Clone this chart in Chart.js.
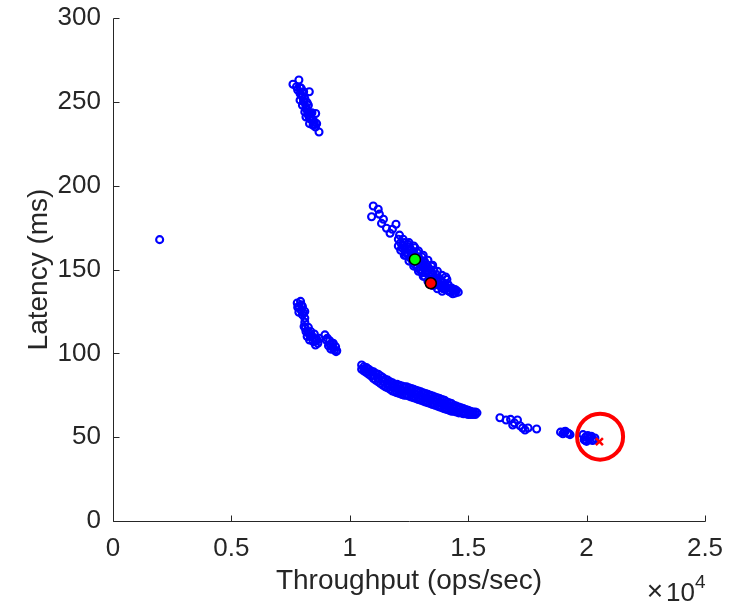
<!DOCTYPE html>
<html>
<head>
<meta charset="utf-8">
<title>Throughput vs latency</title>
<script src="https://cdn.jsdelivr.net/npm/chart.js@4/dist/chart.umd.min.js"></script>
<style>
  html, body { margin: 0; padding: 0; background: #fff; }
  #chart { display: block; }
</style>
</head>
<body>
<canvas id="chart" width="745" height="605"></canvas>
<script>
// Configuration sweep: each point is [throughput ops/sec, latency ms]
const isolatedRun = [[1970, 167.8]];

const slowCluster = [
  [7600, 260.5], [7850, 263], [7800, 257], [7900, 255], [7950, 258], [8000, 253],
  [7900, 251], [8050, 250], [8100, 252], [8000, 248], [8150, 247], [8100, 244],
  [8200, 245], [8250, 242], [8150, 241], [8300, 240], [8350, 243], [8400, 239],
  [8300, 237], [8450, 236], [8500, 238], [8550, 235], [8700, 232], [8050, 256],
  [8250, 248], [8290, 256], [8560, 243],
  [7750, 259], [7950, 254], [8050, 250.5], [8150, 246], [8200, 249.5], [8250, 243.5],
  [8350, 241], [8400, 243.5], [8450, 239], [8500, 236.5], [8600, 237], [7900, 258.5]
];

const midCluster = [
  [10990, 187.9], [11200, 185.9], [10920, 181.5], [11250, 183], [11340, 177.5],
  [11550, 174.6], [11950, 177], [11700, 171.6], [11800, 174], [11420, 180],
  [12050, 168], [12050, 164], [12150, 166], [12150, 161.5], [12250, 164.5], [12250, 168],
  [12350, 162], [12350, 158.5], [12450, 165], [12450, 160], [12550, 157], [12550, 162.5],
  [12650, 160.5], [12650, 155], [12750, 163], [12750, 158], [12750, 153],
  [12850, 156.5], [12850, 151.5], [12850, 160], [12950, 154.5], [12950, 150],
  [13050, 157.5], [13050, 148], [13050, 152.5], [13150, 150.5], [13150, 146], [13150, 155],
  [13250, 148.5], [13250, 153], [13350, 144.5], [13350, 150.5],
  [13450, 147], [13450, 142.5], [13450, 152], [13550, 145], [13550, 140.5], [13550, 149.5],
  [13650, 143], [13650, 147], [13750, 141], [13750, 145], [13850, 139.5], [13850, 143.5],
  [13950, 138.5], [13950, 142], [14050, 145.5], [14050, 140], [14150, 137.5], [14150, 141],
  [14250, 139], [14250, 136.5], [14350, 137.5], [14350, 135.5], [14450, 138], [14450, 136],
  [14580, 136.5],
  [12100, 170.5], [12300, 166], [12500, 163.5], [12700, 160.5], [12900, 157.5], [13100, 155],
  [13300, 151.5], [13500, 147], [13700, 143], [13900, 140.5], [14100, 139], [14300, 139],
  [14500, 137.5], [12200, 163], [12400, 159.5], [12600, 158], [12800, 154.5], [13000, 150],
  [13200, 148], [13400, 145.5], [13600, 142], [13800, 141], [14000, 138.5], [14200, 137],
  [12300, 158.5], [12500, 155], [12700, 152], [12900, 149], [13100, 146], [13300, 143],
  [13500, 140.5], [13700, 138.5], [13900, 137],
  [12500, 166], [12700, 164], [12900, 161], [13100, 158.5], [13300, 155.5], [13500, 152.5],
  [13700, 149], [13900, 146.5], [14100, 144]
];

const lowerLeftCluster = [
  [7780, 130], [7850, 128], [7920, 131], [7950, 125.5], [8050, 124], [7850, 124.5],
  [8000, 128], [8100, 125], [7800, 127.5], [7950, 129], [8000, 123],
  [8070, 116], [8150, 113], [8250, 115.5], [8350, 113], [8200, 110], [8400, 110.5],
  [8300, 108], [8500, 111.5], [8450, 107], [8600, 108.5], [8550, 105], [8650, 106],
  [8100, 118.5], [8700, 109], [8100, 121], [8120, 115], [8250, 112], [8350, 110],
  [8480, 109], [8580, 107.5],
  [8950, 111], [9050, 109], [9150, 107.5], [9100, 104.5], [9250, 106], [9300, 103],
  [9400, 104], [9450, 101.5], [9200, 102.5], [9000, 108], [9180, 105], [9350, 102],
  [9300, 106], [9420, 101]
];

// long lower band: upper and lower edge of the band at each step, then its middle
const lowerBand = [
  [10500, 93], [10500, 90.5], [10600, 92], [10600, 89.5], [10700, 91.5], [10700, 88.5],
  [10800, 90.5], [10800, 87.5], [10900, 89.5], [10900, 86.5], [11000, 89], [11000, 85],
  [11100, 88], [11100, 84], [11200, 87.5], [11200, 83], [11300, 86.5], [11300, 82],
  [11400, 85.5], [11400, 81], [11500, 84.5], [11500, 80], [11600, 84], [11600, 79.5],
  [11700, 83], [11700, 78.5], [11800, 82.5], [11800, 77.5], [11900, 81.5], [11900, 77],
  [12000, 81.5], [12000, 76.5], [12100, 81], [12100, 76], [12200, 80.5], [12200, 75.5],
  [12300, 80], [12300, 75], [12400, 80], [12400, 75], [12500, 79.5], [12500, 74.5],
  [12600, 79], [12600, 74], [12700, 78.5], [12700, 73.5], [12800, 78], [12800, 73],
  [12900, 77.5], [12900, 72.5], [13000, 77], [13000, 72], [13100, 76.5], [13100, 71.5],
  [13200, 76], [13200, 71], [13300, 75.5], [13300, 70.5], [13400, 75], [13400, 70],
  [13500, 74.5], [13500, 69.5], [13600, 74], [13600, 69], [13700, 73.5], [13700, 68.5],
  [13800, 73], [13800, 68], [13900, 72.5], [13900, 67.5], [14000, 72], [14000, 67],
  [14100, 71], [14100, 66.5], [14200, 70.5], [14200, 66], [14300, 70], [14300, 65.5],
  [14400, 69], [14400, 65.5], [14500, 68.5], [14500, 65], [14600, 68], [14600, 64.5],
  [14700, 67.5], [14700, 64.5], [14800, 67], [14800, 64], [14900, 66.5], [14900, 64],
  [15000, 66], [15000, 63.5], [15100, 65.5], [15100, 63.5], [15200, 65], [15200, 63.5],
  [15300, 65], [15300, 63.5], [15370, 64.5],
  [10600, 90.7], [10800, 89], [11000, 87], [11200, 85.2], [11400, 83.5], [11600, 81.5],
  [11800, 80], [12000, 79], [12200, 78], [12400, 77.5], [12600, 76.5], [12800, 75.5],
  [13000, 74.5], [13200, 73.5], [13400, 72.5], [13600, 71.5], [13800, 70.5], [14000, 69.5],
  [14200, 68.2], [14400, 67.2], [14600, 66.3], [14800, 65.5], [15000, 64.8], [15200, 64.2]
];

const fastCluster = [
  [16340, 61.6], [16600, 60.2], [16790, 60.6], [16880, 57.3], [17080, 60.2], [17190, 56.8],
  [17400, 54.3], [17530, 55.5], [17890, 54.9], [16950, 58.5], [17300, 55.5]
];

const fastestCluster = [
  [18900, 53], [19000, 52], [19100, 53.5], [19200, 52.5], [19300, 51.5],
  [19850, 51.5], [19950, 50], [20050, 51], [20100, 49], [20200, 50.5], [20250, 48],
  [20350, 49.5], [19900, 48.5], [20000, 47.5], [19050, 53], [19250, 52], [20150, 50],
  [20300, 48.5], [19950, 48]
];

const bestRun = [[20540, 47.3]];
const ringCentre = [[20570, 50.3]];
const defaultRun = [[12750, 156]];
const tunedRun = [[13420, 141.8]];

const xTicks = [0, 5000, 10000, 15000, 20000, 25000];
const yTicks = [0, 50, 100, 150, 200, 250, 300];

const axisColor = '#262626';
const fontFamily = '"Liberation Sans", Arial, Helvetica, sans-serif';

const toPoints = arr => arr.map(([x, y]) => ({ x, y }));

const sweep = [
  ...isolatedRun, ...slowCluster, ...midCluster, ...lowerLeftCluster,
  ...lowerBand, ...fastCluster, ...fastestCluster
];

// box-off axes with inward ticks, plus the x10^4 multiplier
const matlabAxes = {
  id: 'matlabAxes',
  afterDraw(chart) {
    const { ctx, scales: { x, y } } = chart;
    const x0 = Math.round(x.getPixelForValue(xTicks[0])) + 0.5;
    const x1 = Math.round(x.getPixelForValue(xTicks[xTicks.length - 1])) + 0.5;
    const y0 = Math.round(y.getPixelForValue(yTicks[0])) + 0.5;
    const y1 = Math.round(y.getPixelForValue(yTicks[yTicks.length - 1])) + 0.5;
    ctx.save();
    ctx.strokeStyle = axisColor;
    ctx.lineWidth = 1;
    ctx.beginPath();
    ctx.moveTo(x0, y1); ctx.lineTo(x0, y0); ctx.lineTo(x1, y0);
    xTicks.forEach(v => {
      const px = Math.round(x.getPixelForValue(v)) + 0.5;
      ctx.moveTo(px, y0); ctx.lineTo(px, y0 - 6);
    });
    yTicks.forEach(v => {
      const py = Math.round(y.getPixelForValue(v)) + 0.5;
      ctx.moveTo(x0, py); ctx.lineTo(x0 + 6, py);
    });
    ctx.stroke();

    ctx.fillStyle = axisColor;
    ctx.textBaseline = 'alphabetic';
    ctx.textAlign = 'right';
    ctx.font = '19px ' + fontFamily;
    const supW = ctx.measureText('4').width;
    ctx.fillText('4', x1, y0 + 66);
    ctx.font = '26px ' + fontFamily;
    const baseW = ctx.measureText('10').width;
    ctx.fillText('10', x1 - supW, y0 + 79);
    ctx.font = '28px ' + fontFamily;
    ctx.fillText('\u00d7', x1 - supW - baseW - 3, y0 + 78);
    ctx.restore();
  }
};

new Chart(document.getElementById('chart'), {
  type: 'scatter',
  data: {
    datasets: [
      { data: toPoints(ringCentre), pointRadius: 23, pointHoverRadius: 23, borderWidth: 4,
        borderColor: '#ff0000', backgroundColor: 'rgba(0,0,0,0)', order: 0 },
      { data: toPoints(defaultRun), pointRadius: 5.5, pointHoverRadius: 5.5, borderWidth: 1.5,
        borderColor: '#000', backgroundColor: '#00ff00', order: 1 },
      { data: toPoints(tunedRun), pointRadius: 5.5, pointHoverRadius: 5.5, borderWidth: 1.5,
        borderColor: '#000', backgroundColor: '#ff0000', order: 2 },
      { data: toPoints(bestRun), pointStyle: 'crossRot', pointRadius: 5, pointHoverRadius: 5,
        borderWidth: 2.5, borderColor: '#ff0000', order: 3 },
      { data: toPoints(sweep), pointRadius: 3.5, pointHoverRadius: 3.5, borderWidth: 2.1,
        borderColor: '#0000ff', backgroundColor: 'rgba(0,0,0,0)', order: 4 }
    ]
  },
  options: {
    responsive: false,
    animation: false,
    devicePixelRatio: 1,
    layout: { autoPadding: false, padding: { top: 18, right: 40, left: 0, bottom: 0 } },
    plugins: { legend: { display: false }, tooltip: { enabled: false } },
    events: [],
    scales: {
      x: {
        type: 'linear', min: 0, max: 25000,
        afterFit: s => { s.height = 84; s.paddingLeft = 0; s.paddingRight = 0; },
        afterBuildTicks: s => { s.ticks = xTicks.map(v => ({ value: v })); },
        grid: { display: false, drawTicks: false },
        border: { display: false },
        ticks: {
          padding: 12, color: axisColor, font: { family: fontFamily, size: 26 },
          callback: v => String(v / 10000)
        },
        title: {
          display: true, text: 'Throughput (ops/sec)', color: axisColor,
          font: { family: fontFamily, size: 28 }, padding: { top: 0, bottom: 7 }
        }
      },
      y: {
        type: 'linear', min: 0, max: 300,
        afterFit: s => { s.width = 113; s.paddingTop = 0; s.paddingBottom = 0; },
        afterBuildTicks: s => { s.ticks = yTicks.map(v => ({ value: v })); },
        grid: { display: false, drawTicks: false },
        border: { display: false },
        ticks: { padding: 12, color: axisColor, font: { family: fontFamily, size: 26 } },
        title: {
          display: true, text: 'Latency (ms)', color: axisColor,
          font: { family: fontFamily, size: 28 }, padding: { top: 22, bottom: 0 }
        }
      }
    }
  },
  plugins: [matlabAxes]
});
</script>
</body>
</html>
